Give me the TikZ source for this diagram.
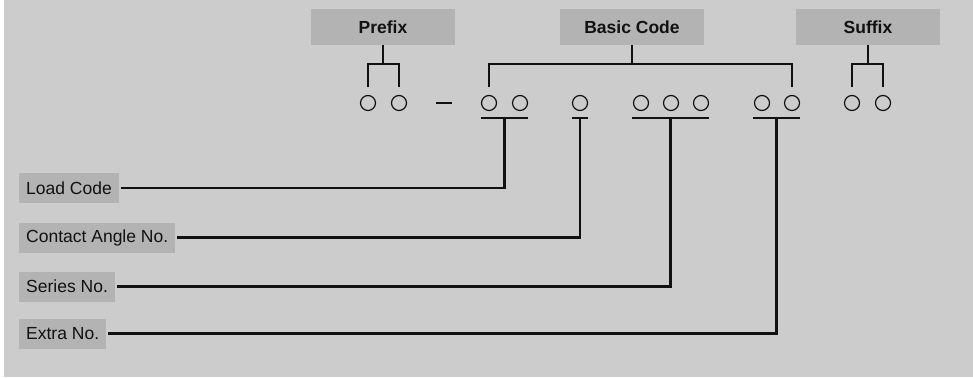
\documentclass[tikz,border=0pt]{standalone}
\usepackage{fontspec}
\setmainfont{Liberation Sans}
\usepackage{xcolor}
\usepackage{tikz}
\definecolor{fondo}{HTML}{CCCCCC}
\definecolor{caja}{HTML}{B3B3B3}
\definecolor{tinta}{HTML}{111111}
\begin{document}
\begin{tikzpicture}[x=1pt,y=-1pt,
  font=\fontsize{17.5}{20}\selectfont,
  cabeza/.style={fill=caja,text=tinta,font=\fontsize{17.5}{20}\selectfont\bfseries,minimum width=144pt,minimum height=36pt,inner sep=0pt},
  campo/.style={fill=caja,text=tinta,anchor=west,minimum height=30pt,inner xsep=7pt,inner ysep=0pt},
  digito/.style={draw=tinta,line width=1.2pt,circle,minimum size=15pt,inner sep=0pt},
  rama/.style={line width=2.6pt,tinta}]
\useasboundingbox (0,0) rectangle (973,377);
\fill[fondo] (4,0) rectangle (973,377);
% cabeceras
\node[cabeza] (pre) at (383,27) {Prefix};
\node[cabeza] (bas) at (632,27) {Basic Code};
\node[cabeza] (suf) at (868,27) {Suffix};
% digitos
\node[digito] (a1) at (368,103) {};
\node[digito] (a2) at (399,103) {};
\node[digito] (b1) at (489,103) {};
\node[digito] (b2) at (520,103) {};
\node[digito] (c1) at (580,103) {};
\node[digito] (d1) at (641,103) {};
\node[digito] (d2) at (671,103) {};
\node[digito] (d3) at (701,103) {};
\node[digito] (e1) at (762,103) {};
\node[digito] (e2) at (792,103) {};
\node[digito] (f1) at (852,103) {};
\node[digito] (f2) at (883,103) {};
\draw[line width=1.2pt,tinta] (436,103) -- (452,103);
% campos
\node[campo] (carga) at (19,188) {Load Code};
\node[campo] (angulo) at (19,237.5) {Contact Angle No.};
\node[campo] (serie) at (19,286.5) {Series No.};
\node[campo] (extra) at (19,333.5) {Extra No.};
% llaves
\draw[rama] (pre.south) -- ++(0,19) coordinate (pre-bar);
\draw[rama] ([yshift=8pt]a1.north) |- (pre-bar) -| ([yshift=8pt]a2.north);
\draw[rama] (bas.south) -- ++(0,19) coordinate (bas-bar);
\draw[rama] ([yshift=8pt]b1.north) |- (bas-bar) -| ([yshift=8pt]e2.north);
\draw[rama] (suf.south) -- ++(0,19) coordinate (suf-bar);
\draw[rama] ([yshift=8pt]f1.north) |- (suf-bar) -| ([yshift=8pt]f2.north);
% subrayados
\draw[rama] ([shift={(-8,15)}]b1.center) -- coordinate[pos=.5] (m1) ([shift={(8,15)}]b2.center);
\draw[rama] ([shift={(-8,15)}]c1.center) -- coordinate[pos=.5] (m2) ([shift={(8,15)}]c1.center);
\draw[rama] ([shift={(-9,15)}]d1.center) -- coordinate[pos=.5] (m3) ([shift={(8,15)}]d3.center);
\draw[rama] ([shift={(-9,15)}]e1.center) -- coordinate[pos=.5] (m4) ([shift={(8,15)}]e2.center);
% conectores
\draw[rama] (m1) |- ([xshift=1.5pt]carga.east);
\draw[rama] (m2) |- ([xshift=1.5pt]angulo.east);
\draw[rama] (m3) |- ([xshift=1.5pt]serie.east);
\draw[rama] (m4) |- ([xshift=1.5pt]extra.east);
\end{tikzpicture}
\end{document}
